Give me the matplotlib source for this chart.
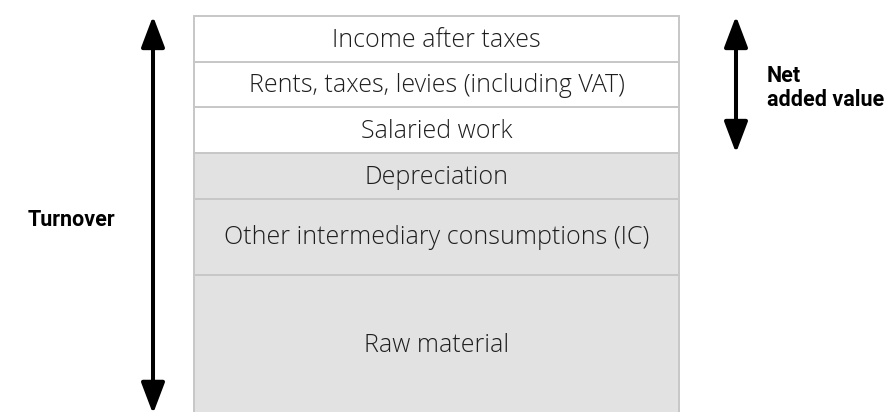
import matplotlib.pyplot as plt
from matplotlib.patches import FancyArrowPatch

# stacked cost blocks, bottom to top (relative heights)
labels = ['Raw material', 'Other intermediary consumptions (IC)', 'Depreciation',
          'Salaried work', 'Rents, taxes, levies (including VAT)', 'Income after taxes']
values = [3.05, 1.67, 1.0, 1.0, 1.0, 1.0]
fills = ['#e1e2e1', '#e1e2e1', '#e1e2e1', 'white', 'white', 'white']
net_parts = 3  # top blocks making up net added value

total = sum(values)

fig = plt.figure(figsize=(8.9, 4.12), dpi=100)
ax = fig.add_axes([0, 0, 1, 1])
ax.set_xlim(0, 890)
ax.set_ylim(0.04, total * 412 / 396)
ax.axis('off')

bottoms = [sum(values[:i]) for i in range(len(values))]
ax.bar(436.5, values, width=485, bottom=bottoms, color=fills,
       edgecolor='#c6c7c6', linewidth=1.4)
for lab, b, v in zip(labels, bottoms, values):
    ax.text(436.5, b + v / 2 - 0.03, lab, ha='center', va='center', fontsize=18,
            family=['Open Sans', 'DejaVu Sans'], fontweight='light', color='#1e1e1e')


def arrow(x, y0, y1):
    a = FancyArrowPatch((x, y0), (x, y1), arrowstyle='<|-|>,head_length=19,head_width=7.2',
                        mutation_scale=1, shrinkA=0, shrinkB=0, lw=2.9, color='black')
    ax.add_patch(a)


arrow(153, 0, total)
arrow(736, total - sum(values[-net_parts:]), total)

bold = dict(family=['Roboto', 'DejaVu Sans'], fontweight='bold',
            fontsize=15.5, color='black')
ax.text(71, total / 2 - 0.1, 'Turnover', ha='center', va='center', **bold)
ax.text(767, total - sum(values[-net_parts:]) / 2 - 0.07, 'Net\nadded value', ha='left',
        va='center', linespacing=1.1, **bold)

fig.savefig('out.png', dpi=100)
